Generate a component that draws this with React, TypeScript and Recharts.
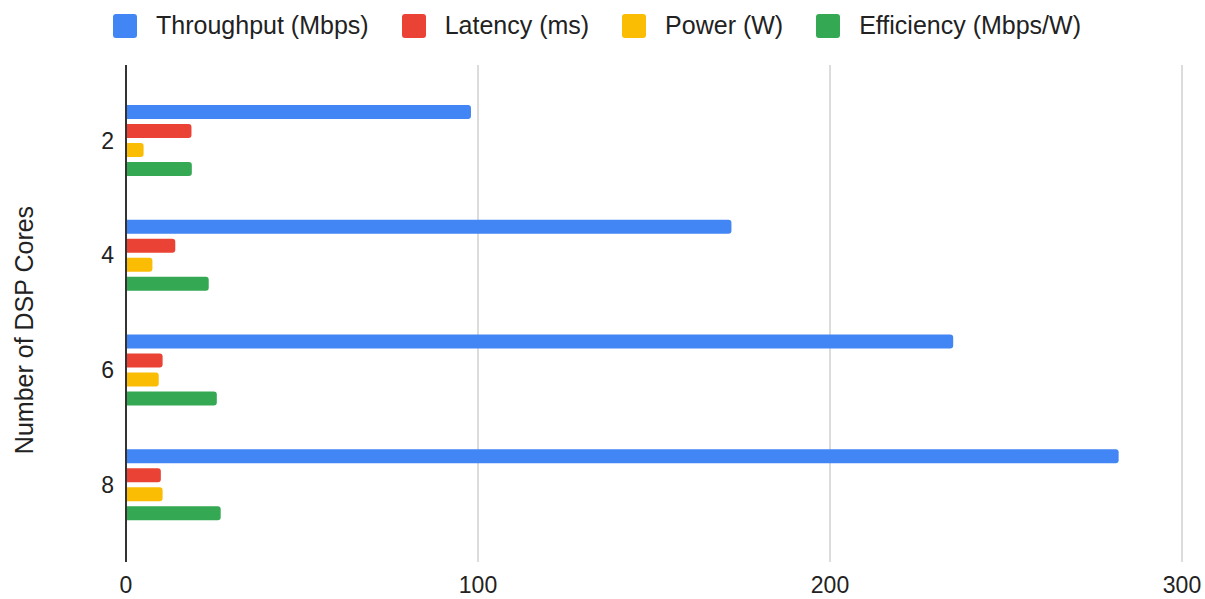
import { Bar, BarChart, CartesianGrid, Legend, XAxis, YAxis } from "recharts";

const cores = ["2", "4", "6", "8"];
const throughput = [98, 172, 235, 282];
const latency = [18.6, 14, 10.4, 9.9];
const power = [5, 7.5, 9.3, 10.4];
const efficiency = [18.7, 23.5, 25.8, 26.9];
const xTicks = [0, 100, 200, 300];

const series = [
  { key: "throughput", name: "Throughput (Mbps)", color: "#4285F4" },
  { key: "latency", name: "Latency (ms)", color: "#EA4335" },
  { key: "power", name: "Power (W)", color: "#FBBC04" },
  { key: "efficiency", name: "Efficiency (Mbps/W)", color: "#34A853" },
];

const data = cores.map((c, i) => ({
  cores: c,
  throughput: throughput[i],
  latency: latency[i],
  power: power[i],
  efficiency: efficiency[i],
}));

const FONT = "'Liberation Sans', Arial, Helvetica, sans-serif";

function TopLegend() {
  return (
    <div
      style={{
        height: 65,
        boxSizing: "border-box",
        paddingTop: 13,
        paddingLeft: 12,
        display: "flex",
        justifyContent: "center",
        alignItems: "flex-start",
        fontFamily: FONT,
        fontSize: 25,
        color: "#222",
      }}
    >
      {series.map((s, i) => (
        <div
          key={s.key}
          style={{ display: "flex", alignItems: "center", marginRight: i < series.length - 1 ? 33 : 0, height: 25 }}
        >
          <span style={{ width: 24, height: 24, borderRadius: 3, background: s.color, marginRight: 19 }} />
          <span style={{ lineHeight: "25px" }}>{s.name}</span>
        </div>
      ))}
    </div>
  );
}

function YLabel() {
  return (
    <text
      x={33}
      y={330}
      transform="rotate(-90, 33, 330)"
      textAnchor="middle"
      fill="#222"
      fontSize={25}
      fontFamily={FONT}
    >
      Number of DSP Cores
    </text>
  );
}

export default function App() {
  return (
    <div style={{ position: "absolute", left: 0, top: 0, background: "#fff" }}>
      <BarChart
        width={1205}
        height={599}
        data={data}
        layout="vertical"
        margin={{ top: 0, right: 23, left: 0, bottom: 0 }}
        barSize={14}
        barGap={5}
      >
        <CartesianGrid horizontal={false} stroke="#d0d0d0" strokeWidth={1.5} />
        <XAxis
          type="number"
          domain={[0, 300]}
          ticks={xTicks}
          axisLine={false}
          tickLine={false}
          tickMargin={9}
          height={37}
          tick={{ fill: "#222", fontSize: 23, fontFamily: FONT }}
        />
        <YAxis
          type="category"
          dataKey="cores"
          width={126}
          axisLine={{ stroke: "#333", strokeWidth: 2 }}
          tickLine={false}
          tickMargin={6}
          padding={{ top: 18, bottom: 20 }}
          tick={{ fill: "#222", fontSize: 23, fontFamily: FONT }}
          label={<YLabel />}
        />
        <Legend verticalAlign="top" content={<TopLegend />} />
        {series.map((s) => (
          <Bar
            key={s.key}
            dataKey={s.key}
            name={s.name}
            fill={s.color}
            radius={[0, 3, 3, 0]}
            isAnimationActive={false}
          />
        ))}
      </BarChart>
    </div>
  );
}
